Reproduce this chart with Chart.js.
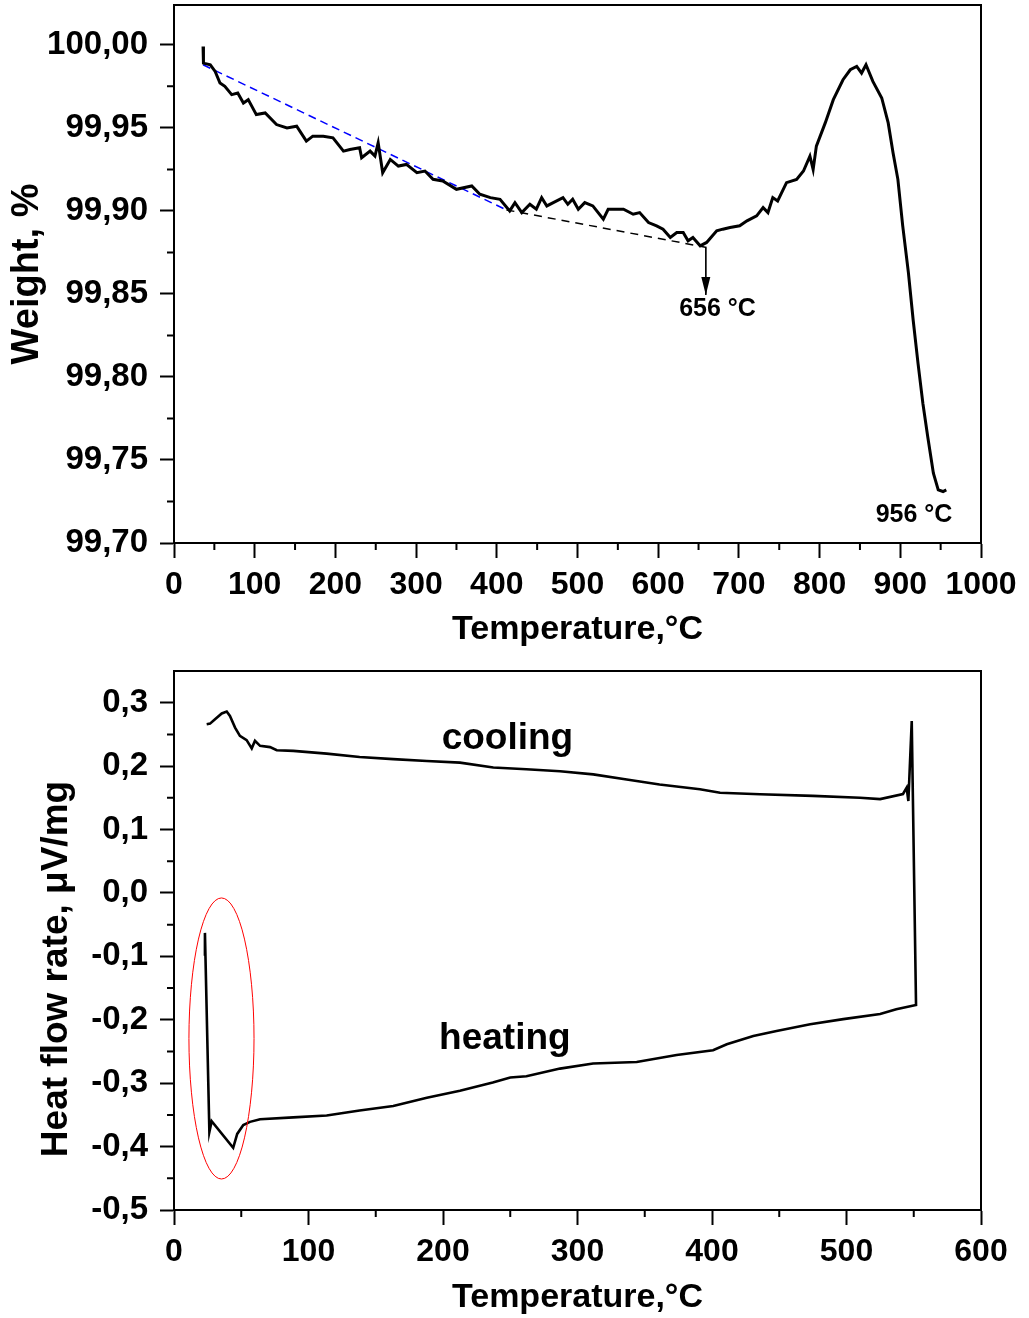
<!DOCTYPE html>
<html>
<head>
<meta charset="utf-8">
<script src="https://cdn.jsdelivr.net/npm/chart.js@4.4.1/dist/chart.umd.min.js"></script>
<style>
  body { margin: 0; background: #fff; }
  .panel { position: absolute; left: 0; width: 1029px; }
  #tga-panel { top: 0; height: 650px; }
  #dsc-panel { top: 650px; height: 668px; }
</style>
</head>
<body>
<div class="panel" id="tga-panel"><canvas id="tgaChart"></canvas></div>
<div class="panel" id="dsc-panel"><canvas id="dscChart"></canvas></div>
<script>
// --- weight loss (TGA) ---
const weightTemp = [36, 36.5, 45, 51, 57, 63, 71.5, 79, 86, 92, 102, 113, 127, 140, 152, 164, 172, 185, 197, 210,
  218, 230, 232.5, 243, 249, 253, 258.6, 268, 278, 288, 301, 311, 321, 333, 350, 369, 379, 392, 404, 416,
  422.5, 431, 441, 449, 455.6, 462, 470, 482, 488, 494, 501, 509, 519, 532, 538, 557, 569, 577, 588, 598,
  606, 615, 623, 631, 637, 643, 652, 660, 672.5, 680, 689, 701, 710, 722, 730, 736, 742, 748, 759, 771.5,
  780, 788, 792, 796, 807, 817, 829, 838, 846, 852, 857.5, 866, 877, 885, 891, 897, 903, 910, 916, 922,
  928, 934, 941, 947, 953, 957];
const weightValue = [99.999, 99.989, 99.988, 99.984, 99.977, 99.975, 99.970, 99.971, 99.965, 99.967, 99.958, 99.959, 99.952, 99.950, 99.951, 99.942, 99.945, 99.945, 99.944, 99.936,
  99.937, 99.938, 99.932, 99.936, 99.933, 99.941, 99.923, 99.931, 99.927, 99.928, 99.923, 99.924, 99.919, 99.918, 99.913, 99.915, 99.910, 99.908, 99.907, 99.900,
  99.905, 99.899, 99.904, 99.901, 99.908, 99.903, 99.905, 99.908, 99.904, 99.907, 99.901, 99.905, 99.903, 99.895, 99.901, 99.901, 99.898, 99.899, 99.893, 99.891,
  99.889, 99.884, 99.887, 99.887, 99.882, 99.884, 99.879, 99.881, 99.888, 99.889, 99.890, 99.891, 99.894, 99.897, 99.902, 99.899, 99.908, 99.906, 99.917, 99.919,
  99.924, 99.933, 99.925, 99.939, 99.953, 99.967, 99.979, 99.985, 99.987, 99.983, 99.988, 99.978, 99.968, 99.953, 99.935, 99.919, 99.891, 99.863, 99.834, 99.808,
  99.784, 99.764, 99.742, 99.732, 99.731, 99.732];
const blueBaseTemp = [36, 412];
const blueBaseWeight = [99.988, 99.9006];
const blackBaseTemp = [412, 660];
const blackBaseWeight = [99.9006, 99.878];
const arrowTemp = [659, 659];
const arrowWeight = [99.8777, 99.8494];
const tgaTicksX = [0, 100, 200, 300, 400, 500, 600, 700, 800, 900, 1000];
const tgaTicksY = [99.70, 99.75, 99.80, 99.85, 99.90, 99.95, 100.00];
const tgaNotes = ["656 °C", "956 °C"];
const tgaNoteTemp = [673.5, 917];
const tgaNoteWeight = [99.8367, 99.7128];

// --- heat flow (DSC), lower panel ---
const heatingTemp = [22.5, 23, 26.3, 28, 44, 47, 51.5, 56.5, 64, 88.7, 113.5, 138, 163, 188, 212.6, 237, 250, 262, 287, 311.6,
  344, 373.7, 400.8, 411, 430.7, 448, 473, 497.6, 525, 537, 551.7];
const heatingFlow = [-0.099, -0.063, -0.377, -0.360, -0.402, -0.380, -0.366, -0.361, -0.357, -0.354, -0.351, -0.343, -0.336, -0.323, -0.312, -0.299, -0.291, -0.289, -0.277, -0.269,
  -0.2666, -0.2555, -0.248, -0.2387, -0.2256, -0.2177, -0.207, -0.199, -0.191, -0.1835, -0.1767];
const coolingTemp = [548.5, 546, 544.7, 542, 525, 510, 475, 435.7, 406, 391, 361, 336.6, 311.7, 287, 262, 237.4, 212.6, 188, 163, 138,
  113.5, 88.7, 76.4, 71.4, 64, 60.2, 57.8, 54, 49, 45.4, 41.6, 39.2, 35.5, 30.5, 26.8, 24.3];
const coolingFlow = [0.271, 0.145, 0.166, 0.156, 0.148, 0.150, 0.153, 0.1557, 0.158, 0.1635, 0.171, 0.179, 0.187, 0.192, 0.195, 0.1977, 0.2055, 0.208, 0.211, 0.2145,
  0.2197, 0.224, 0.225, 0.230, 0.232, 0.240, 0.228, 0.241, 0.2476, 0.2607, 0.279, 0.286, 0.283, 0.274, 0.267, 0.266];
const dscTicksX = [0, 100, 200, 300, 400, 500, 600];
const dscTicksY = [-0.5, -0.4, -0.3, -0.2, -0.1, 0, 0.1, 0.2, 0.3];
const dscNotes = ["cooling", "heating"];
const dscNoteTemp = [247.9, 246];
const dscNoteFlow = [0.2271, -0.246];
const ringCenter = [35.3, -0.2295];
const ringRadius = [24.2, 0.2216];

const FONT = "'Liberation Sans', Arial, sans-serif";
Chart.defaults.font.family = FONT;
Chart.defaults.color = "#000";

const toPoints = (xs, ys) => xs.map((x, i) => ({ x, y: ys[i] }));

// top/right frame plus the short minor ticks between major ones
const axesFrame = {
  id: "axesFrame",
  afterDraw(chart) {
    const { ctx, chartArea: a, scales: { x, y } } = chart;
    ctx.save();
    ctx.strokeStyle = "#000";
    ctx.lineWidth = 2;
    ctx.beginPath();
    ctx.moveTo(a.left, a.top);
    ctx.lineTo(a.right, a.top);
    ctx.lineTo(a.right, a.bottom);
    x.ticks.slice(1).forEach((t, i) => {
      const px = (x.getPixelForValue(t.value) + x.getPixelForValue(x.ticks[i].value)) / 2;
      ctx.moveTo(px, a.bottom);
      ctx.lineTo(px, a.bottom + 7);
    });
    y.ticks.slice(1).forEach((t, i) => {
      const py = (y.getPixelForValue(t.value) + y.getPixelForValue(y.ticks[i].value)) / 2;
      ctx.moveTo(a.left, py);
      ctx.lineTo(a.left - 7, py);
    });
    ctx.stroke();
    ctx.restore();
  }
};

function notes(texts, xs, ys, font) {
  return {
    id: "notes",
    afterDatasetsDraw(chart) {
      const { ctx, scales: { x, y } } = chart;
      ctx.save();
      ctx.font = font;
      ctx.fillStyle = "#000";
      ctx.textAlign = "center";
      ctx.textBaseline = "alphabetic";
      texts.forEach((t, i) => ctx.fillText(t, x.getPixelForValue(xs[i]), y.getPixelForValue(ys[i])));
      ctx.restore();
    }
  };
}

// rotated y title that sits a bit below the middle of the axis, as in the figure
function sideTitle(text, left, middle, font) {
  return {
    id: "sideTitle",
    afterDraw(chart) {
      const { ctx } = chart;
      ctx.save();
      ctx.translate(left, middle);
      ctx.rotate(-Math.PI / 2);
      ctx.font = font;
      ctx.fillStyle = "#000";
      ctx.textAlign = "center";
      ctx.textBaseline = "middle";
      ctx.fillText(text, 0, 0);
      ctx.restore();
    }
  };
}

const arrowHead = {
  id: "arrowHead",
  afterDatasetsDraw(chart) {
    const { ctx, scales: { x, y } } = chart;
    const px = x.getPixelForValue(arrowTemp[1]);
    const tip = y.getPixelForValue(arrowWeight[1]);
    ctx.save();
    ctx.fillStyle = "#000";
    ctx.beginPath();
    ctx.moveTo(px, tip);
    ctx.lineTo(px - 4.5, tip - 18);
    ctx.lineTo(px + 4.5, tip - 18);
    ctx.closePath();
    ctx.fill();
    ctx.restore();
  }
};

const ring = {
  id: "ring",
  afterDatasetsDraw(chart) {
    const { ctx, scales: { x, y } } = chart;
    const cx = x.getPixelForValue(ringCenter[0]);
    const cy = y.getPixelForValue(ringCenter[1]);
    const rx = x.getPixelForValue(ringCenter[0] + ringRadius[0]) - cx;
    const ry = cy - y.getPixelForValue(ringCenter[1] + ringRadius[1]);
    ctx.save();
    ctx.strokeStyle = "#ff0000";
    ctx.lineWidth = 1;
    ctx.beginPath();
    ctx.ellipse(cx, cy, rx, ry, 0, 0, 2 * Math.PI);
    ctx.stroke();
    ctx.restore();
  }
};

function axis(opts) {
  const horizontal = opts.horizontal;
  return {
    type: "linear",
    min: opts.min,
    max: opts.max,
    afterBuildTicks: s => { s.ticks = opts.ticks.map(v => ({ value: v })); },
    afterFit: s => {
      if (horizontal) s.height = opts.size; else s.width = opts.size;
      // don't let label overhang push the plot area around
      s.paddingTop = 0; s.paddingBottom = 0; s.paddingLeft = 0; s.paddingRight = 0;
    },
    border: { display: true, color: "#000", width: 2 },
    grid: { drawOnChartArea: false, drawTicks: true, tickLength: horizontal ? 15 : 14, tickWidth: 2, tickColor: "#000" },
    ticks: {
      autoSkip: false,
      maxRotation: 0,
      padding: horizontal ? 8 : 12,
      font: { size: horizontal ? 32 : 33, weight: "bold" },
      callback: opts.format
    },
    title: {
      display: !!opts.title,
      text: opts.title || "",
      color: "#000",
      font: { size: opts.titleSize, weight: "bold", lineHeight: 1.2 },
      padding: opts.titlePad
    }
  };
}

const common = {
  responsive: true,
  maintainAspectRatio: false,
  animation: false,
  plugins: { legend: { display: false }, tooltip: { enabled: false } }
};

new Chart(document.getElementById("tgaChart"), {
  type: "scatter",
  data: {
    datasets: [
      { data: toPoints(weightTemp, weightValue), showLine: true, borderColor: "#000", borderWidth: 3, pointRadius: 0, tension: 0 },
      { data: toPoints(blueBaseTemp, blueBaseWeight), showLine: true, borderColor: "#0000ff", borderWidth: 1.5, borderDash: [8, 5], pointRadius: 0 },
      { data: toPoints(blackBaseTemp, blackBaseWeight), showLine: true, borderColor: "#000", borderWidth: 1.5, borderDash: [8, 6], pointRadius: 0 },
      { data: toPoints(arrowTemp, arrowWeight), showLine: true, borderColor: "#000", borderWidth: 1, pointRadius: 0 }
    ]
  },
  options: {
    ...common,
    layout: { padding: { top: 5, right: 48, bottom: 0, left: 0 } },
    scales: {
      x: axis({ horizontal: true, min: 0, max: 1000, ticks: tgaTicksX, size: 107, format: v => String(v),
        title: "Temperature,°C", titleSize: 34, titlePad: { top: 0, bottom: 0 } }),
      y: axis({ horizontal: false, min: 99.70, max: 100.024, ticks: tgaTicksY, size: 174,
        format: v => v.toFixed(2).replace(".", ","),
        title: "Weight, %", titleSize: 38, titlePad: { top: 5, bottom: 0 } })
    }
  },
  plugins: [axesFrame, arrowHead, notes(tgaNotes, tgaNoteTemp, tgaNoteWeight, "bold 25px " + FONT)]
});

new Chart(document.getElementById("dscChart"), {
  type: "scatter",
  data: {
    datasets: [
      { data: toPoints(heatingTemp, heatingFlow).concat(toPoints(coolingTemp, coolingFlow)),
        showLine: true, borderColor: "#000", borderWidth: 2.6, pointRadius: 0, tension: 0 }
    ]
  },
  options: {
    ...common,
    layout: { padding: { top: 21, right: 48, bottom: 0, left: 0 } },
    scales: {
      x: axis({ horizontal: true, min: 0, max: 600, ticks: dscTicksX, size: 108, format: v => String(v),
        title: "Temperature,°C", titleSize: 34, titlePad: { top: 0, bottom: 0 } }),
      y: axis({ horizontal: false, min: -0.5, max: 0.35, ticks: dscTicksY, size: 174,
        format: v => (Math.abs(v) < 1e-9 ? 0 : v).toFixed(1).replace(".", ",") })
    }
  },
  plugins: [axesFrame, ring, notes(dscNotes, dscNoteTemp, dscNoteFlow, "bold 37px " + FONT),
    sideTitle("Heat flow rate, μV/mg", 57, 319, "bold 37px " + FONT)]
});
</script>
</body>
</html>
